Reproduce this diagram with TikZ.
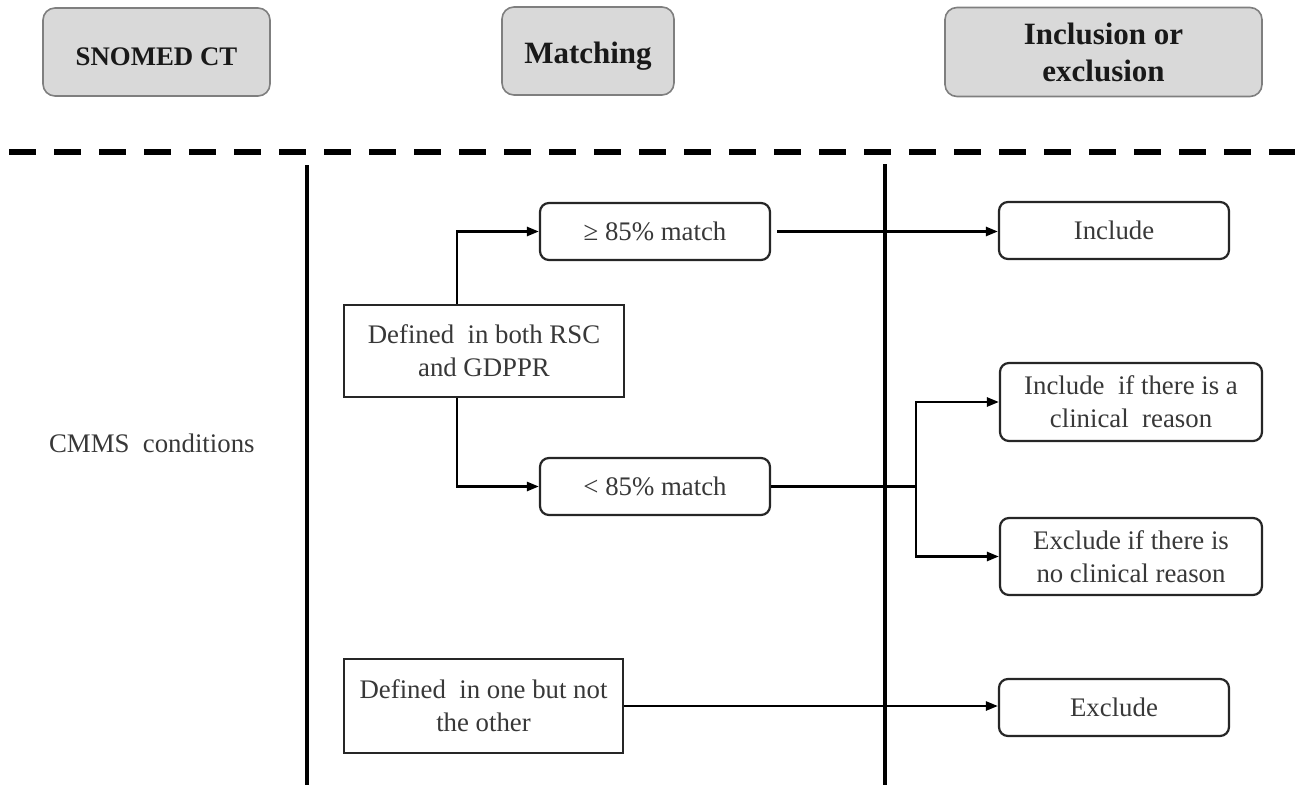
\documentclass[tikz,border=0pt]{standalone}
\usepackage{fontspec}
\setmainfont{Liberation Serif}
\usetikzlibrary{arrows.meta}
\definecolor{hdrfill}{HTML}{D9D9D9}
\definecolor{hdrdraw}{HTML}{7F7F7F}
\definecolor{txt}{HTML}{383838}
\tikzset{
  hdr/.style={draw=hdrdraw, line width=0.8pt, fill=hdrfill, rounded corners=6pt,
    font=\fontsize{15.5}{18.5}\selectfont\bfseries, align=center, inner sep=0pt, text=black!90},
  rbox/.style={draw=black!85, line width=1.1pt, rounded corners=4.5pt, fill=white,
    font=\fontsize{13.4}{16.5}\selectfont, align=center, inner sep=0pt, text=txt},
  sbox/.style={draw=black!85, line width=1.1pt, fill=white,
    font=\fontsize{13.4}{16.5}\selectfont, align=center, inner sep=0pt, text=txt},
  conn/.style={line width=1.25pt, black},
  arr/.style={conn, -{Triangle[length=6pt,width=4.5pt]}},
  divider/.style={line width=2pt, black},
}
\begin{document}
\begin{tikzpicture}[x=0.5pt,y=-0.5pt]
\useasboundingbox (0,0) rectangle (1295,792);
% headers
\node[hdr, minimum width=113.5pt, minimum height=44pt] (snomed) at (156.5,52) {};
\node[font=\fontsize{13.4}{16}\selectfont\bfseries, text=black!90, inner sep=0pt] (snomedtxt) at (156.5,57) {SNOMED CT};
\node[hdr, minimum width=86pt, minimum height=44pt] (matching) at (588,51) {};
\node[font=\fontsize{15.5}{18.5}\selectfont\bfseries, text=black!90, inner sep=0pt] (matchingtxt) at (588,56) {Matching};
\node[hdr, minimum width=158.5pt, minimum height=44.5pt] (inclusion) at (1103.5,52) {Inclusion or\\exclusion};
% dashed separator
\coordinate (dl) at (9,152);
\coordinate (dr) at (1295,152);
\draw[line width=3pt, dash pattern=on 13.5pt off 9pt] (dl) -- (dr);
% vertical dividers
\coordinate (v1t) at (307,165);
\coordinate (v1b) at (307,785);
\coordinate (v2t) at (885,164);
\coordinate (v2b) at (885,785);
\draw[divider] (v1t) -- (v1b);
\draw[divider] (v2t) -- (v2b);
% left label
\node[font=\fontsize{13.4}{16.5}\selectfont, text=txt, anchor=east, inner sep=0pt] (cmms) at (255,443) {CMMS\ \ conditions};
% matching boxes
\node[sbox, minimum width=140pt, minimum height=46pt] (both) at (484,351) {Defined\ \ in both RSC\\and GDPPR};
\node[sbox, minimum width=139.5pt, minimum height=47pt] (one) at (483.5,706) {Defined\ \ in one but not\\the other};
\node[rbox, minimum width=115pt, minimum height=28.5pt] (ge) at (655,231.5) {≥ 85\% match};
\node[rbox, minimum width=115pt, minimum height=28.5pt] (lt) at (655,486.5) {< 85\% match};
% outcome boxes
\node[rbox, minimum width=115pt, minimum height=28.5pt] (include) at (1114,230.5) {Include};
\node[rbox, minimum width=131pt, minimum height=39pt] (inclif) at (1131,402) {Include\ \ if there is a\\clinical\ \ reason};
\node[rbox, minimum width=131pt, minimum height=38.5pt] (exclif) at (1131,556.5) {Exclude if there is\\no clinical reason};
\node[rbox, minimum width=115pt, minimum height=28.5pt] (exclude) at (1114,707.5) {Exclude};
% connectors
\draw[arr] (both.north -| 457,0) |- (ge.west);
\draw[arr] (both.south -| 457,0) |- (lt.west);
\draw[arr, shorten <=3pt] (ge.east) -- (include.west |- ge.east);
\coordinate (split) at (916,486.5);
\draw[conn] (lt.east) -- (split);
\draw[arr] (split) |- (inclif.west);
\draw[arr] (split) |- (exclif.west);
\draw[arr] (one.east) -- (exclude.west |- one.east);
\end{tikzpicture}
\end{document}
